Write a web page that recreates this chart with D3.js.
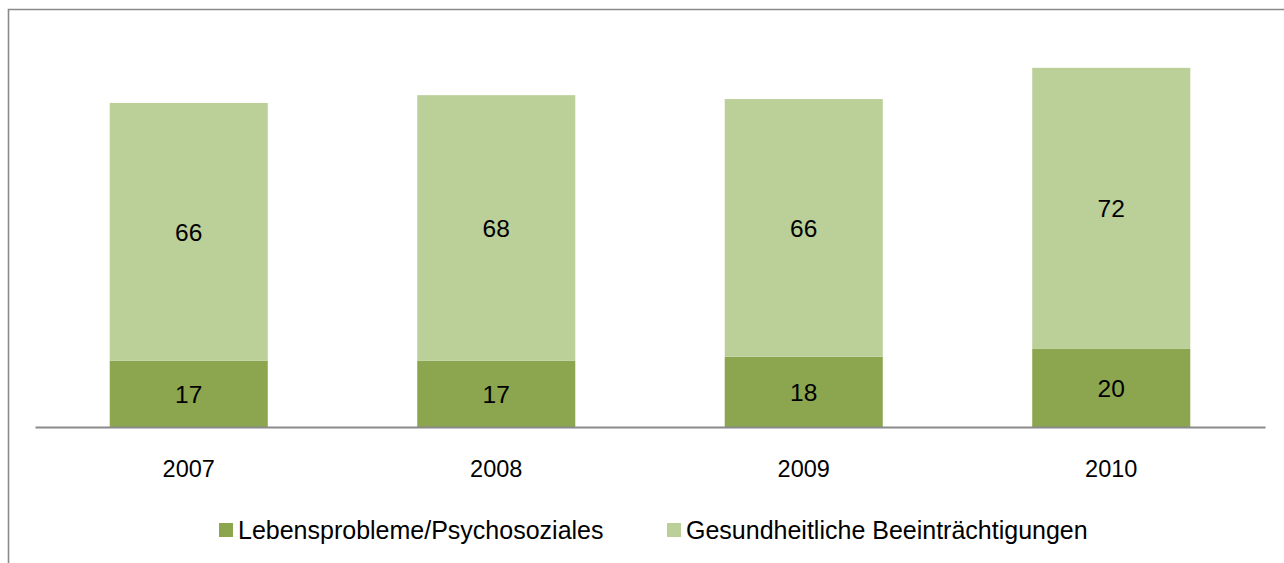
<!DOCTYPE html>
<html>
<head>
<meta charset="utf-8">
<script src="https://cdn.jsdelivr.net/npm/d3@7"></script>
<style>
  html, body { margin: 0; padding: 0; background: #fff; }
  svg { display: block; font-family: "Liberation Sans", Arial, sans-serif; }
</style>
</head>
<body>
<svg id="chart" width="1284" height="563"></svg>
<script>
const years = ["2007", "2008", "2009", "2010"];
const lebensprobleme = [17, 17, 18, 20];
const gesundheitlich = [66, 68, 66, 72];
const seriesNames = ["Lebensprobleme/Psychosoziales", "Gesundheitliche Beeinträchtigungen"];
const seriesColors = ["#8BA64F", "#BBCF98"];

const svg = d3.select("#chart");
const W = 1284, H = 563;

// frame (extends beyond the window at the right and bottom)
svg.append("path")
  .attr("d", `M8.5,${H} V9.5 H${W}`)
  .attr("fill", "none").attr("stroke", "#8a8a8a").attr("stroke-width", 1.6);

const plotLeft = 35, plotRight = 1265, baseY = 427;
const x = d3.scaleBand().domain(years).range([plotLeft, plotRight]).padding(0);
const y = d3.scaleLinear().domain([0, 100]).range([baseY, baseY - 390.4]);
const barW = x.bandwidth() * 0.514;

const stacked = d3.stack().keys([0, 1]).value((d, k) => d[k])(
  years.map((yr, i) => [lebensprobleme[i], gesundheitlich[i]])
);

const g = svg.append("g");
stacked.forEach((layer, li) => {
  g.selectAll(null).data(layer).enter().append("rect")
    .attr("x", (d, i) => x(years[i]) + x.bandwidth() / 2 - barW / 2)
    .attr("width", barW)
    .attr("y", d => y(d[1]))
    .attr("height", d => y(d[0]) - y(d[1]))
    .attr("fill", seriesColors[li]);
  g.selectAll(null).data(layer).enter().append("text")
    .attr("x", (d, i) => x(years[i]) + x.bandwidth() / 2)
    .attr("y", d => (y(d[0]) + y(d[1])) / 2)
    .attr("dy", "0.36em")
    .attr("text-anchor", "middle")
    .attr("font-size", 24.5)
    .attr("fill", "#000")
    .text(d => d[1] - d[0]);
});

// x axis
const xAxis = d3.axisBottom(x).tickSize(0).tickPadding(0);
const ax = svg.append("g").attr("transform", `translate(0,${baseY})`).call(xAxis);
ax.select(".domain").attr("stroke", "#8a8a8a").attr("stroke-width", 2);
ax.selectAll(".tick text")
  .attr("font-size", 23.5).attr("fill", "#000")
  .attr("font-family", "Liberation Sans, Arial, sans-serif")
  .attr("y", 50).attr("dy", "0");

// legend
const legendItems = [{x: 219}, {x: 667}];
const lg = svg.append("g");
seriesNames.forEach((name, i) => {
  lg.append("rect").attr("x", legendItems[i].x).attr("y", 523)
    .attr("width", 14).attr("height", 14).attr("fill", seriesColors[i]);
  lg.append("text").attr("x", legendItems[i].x + 19).attr("y", 530)
    .attr("dy", "0.36em").attr("font-size", 25).attr("fill", "#000").text(name);
});
</script>
</body>
</html>
